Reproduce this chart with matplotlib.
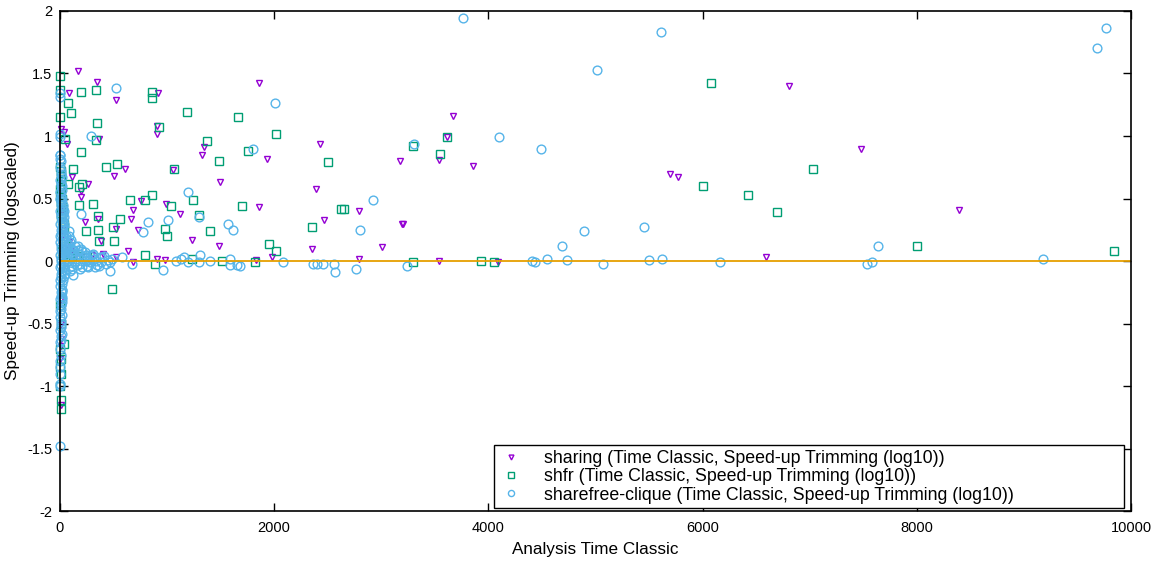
import matplotlib
matplotlib.use("Agg")
import matplotlib.pyplot as plt

plt.rcParams["font.family"] = ["Liberation Sans", "DejaVu Sans"]
plt.rcParams["axes.unicode_minus"] = False

# sharing: (Time Classic, Speed-up Trimming log10)
sharing_x = [165, 345, 84, 523, 915, 1858, 9, 37, 65, 364, 906, 906, 1345, 1326, 1932,
             2428, 3175, 112, 504, 607, 1055, 1494, 261, 196, 2390, 756, 682, 990, 1120,
             1858, 2792, 2465, 3193, 233, 355, 663, 523, 728, 1232, 1485, 2353, 3006, 1979,
             2792, 1830, 635, 682, 906, 980, 523, 383, 3669, 3613, 3539, 3856, 3203, 3539,
             4090, 5696, 5770, 6807, 6592, 7479, 8394, 196,
             5, 8, 3, 6, 10, 12, 15, 20, 40, 60, 30, 80, 100, 150, 200, 300, 400]
sharing_y = [1.52, 1.43, 1.34, 1.29, 1.34, 1.42, 1.06, 1.03, 0.94, 0.98, 1.08, 1.02, 0.91,
             0.85, 0.82, 0.94, 0.80, 0.67, 0.68, 0.74, 0.73, 0.63, 0.62, 0.51, 0.58, 0.48,
             0.41, 0.46, 0.38, 0.43, 0.40, 0.33, 0.30, 0.31, 0.34, 0.34, 0.26, 0.25, 0.17,
             0.12, 0.10, 0.11, 0.03, 0.02, 0.01, 0.08, -0.01, 0.02, 0.01, 0.03, 0.16, 1.16,
             0.99, 0.81, 0.76, 0.30, 0.0, -0.01, 0.70, 0.67, 1.40, 0.03, 0.90, 0.41, 0.56,
             -0.62, -0.68, -0.78, -1.15, -0.5, -0.3, 0.4, 0.2, 0.1, 0.05, 0.25, 0.15, 0.08,
             0.05, 0.04, 0.05, 0.06]

# shfr
shfr_x = [3, 3, 196, 336, 75, 103, 3, 345, 859, 859, 1186, 1662, 2017, 47, 336, 924, 1373,
          196, 1755, 1485, 2502, 429, 532, 121, 1064, 75, 205, 177, 654, 794, 859, 1242,
          177, 308, 1036, 1699, 1298, 2624, 2652, 355, 560, 495, 980, 999, 1401, 2353, 243,
          355, 504, 364, 1951, 2017, 794, 887, 1513, 1821, 1232, 486, 37, 9, 9, 3296, 3548,
          3613, 6078, 6004, 6424, 6695, 7031, 3296, 3931, 4052, 8002, 9841,
          5, 8, 12, 6, 18, 25, 10, 40, 30, 60, 15, 4, 6, 3, 5, 4, 7, 2, 20, 90, 120, 160, 250,
          3, 6, 2, 9, 4, 14, 7, 22, 11, 35]
shfr_y = [1.48, 1.37, 1.35, 1.37, 1.26, 1.18, 1.15, 1.10, 1.35, 1.30, 1.19, 1.15, 1.02,
          0.98, 0.97, 1.07, 0.96, 0.87, 0.88, 0.80, 0.79, 0.75, 0.78, 0.74, 0.74, 0.62,
          0.62, 0.59, 0.49, 0.49, 0.53, 0.49, 0.45, 0.46, 0.44, 0.44, 0.37, 0.42, 0.42,
          0.36, 0.34, 0.27, 0.26, 0.20, 0.24, 0.27, 0.24, 0.25, 0.16, 0.16, 0.14, 0.08,
          0.05, -0.02, 0.0, -0.01, 0.02, -0.22, -0.66, -1.11, -1.18, 0.92, 0.86, 0.99, 1.42,
          0.60, 0.53, 0.39, 0.74, -0.01, 0.0, -0.01, 0.12, 0.08,
          0.72, 0.68, 0.6, 0.55, 0.5, 0.42, 0.35, 0.3, 0.2, 0.12, 0.1, -0.35, -0.5, -0.7,
          -0.78, -0.85, -0.9, -1.0, 0.05, 0.06, 0.05, 0.04, 0.03,
          0.75, 0.64, 0.58, 0.47, 0.52, 0.38, 0.66, 0.32, 0.45, 0.27]

# sharefree-clique
clique_x = [3, 4, 523, 2007, 3, 2, 289, 3, 2, 1802, 1195, 2922, 196, 822, 1008, 775, 1298,
            1569, 1615, 2801, 467, 121, 961, 1307, 1587, 1653, 1681, 2082, 2363, 2400, 2456,
            2558, 2568, 2764, 1083, 1130, 1158, 1195, 1298, 1401, 1587, 672, 579, 373, 280,
            205, 19, 19, 3, 2, 3, 3763, 5611, 5014, 4099, 4491, 3305, 4893, 5453, 4687, 3240,
            4407, 4435, 4547, 4734, 5070, 5500, 5621, 6162, 9767, 9683, 7638, 7582, 7535, 9178,
            # dense cluster near zero
            1, 5, 3, 8, 2, 6, 4, 1, 7, 3, 5, 2, 9, 4, 1, 6, 3, 8, 2, 5, 4, 1, 7, 3, 6, 2, 4,
            8, 1, 5, 3, 2, 6, 4, 1, 3,
            12, 16, 10, 18, 14, 11, 17, 13, 19, 15, 12, 16, 10, 18, 14, 11, 17, 13, 19, 15,
            12, 16, 10, 18, 14, 11, 17, 13,
            25, 40, 35, 55, 30, 60, 45, 20, 50, 70, 38, 28, 65, 42, 22, 33, 48, 15, 12, 18,
            26, 32, 44, 52, 36, 58, 24, 46, 62, 29, 41, 54, 27, 34,
            90, 110, 130, 80, 100, 120, 150, 95, 140, 75, 160, 105, 85, 125, 115, 145, 170,
            88, 135, 98,
            180, 220, 250, 200, 240, 280, 190, 230, 260, 170, 210, 270, 185, 245,
            320, 350, 410, 450, 380, 300, 430, 340, 490, 360, 310, 395, 470, 330]
clique_y = [1.34, 1.31, 1.38, 1.26, 1.02, 0.99, 1.0, 0.85, 0.82, 0.90, 0.55, 0.49, 0.38,
            0.31, 0.33, 0.23, 0.35, 0.30, 0.25, 0.25, -0.08, -0.11, -0.07, 0.05, 0.02, -0.03,
            -0.04, -0.01, -0.02, -0.02, -0.02, -0.02, -0.09, -0.06, 0.0, 0.02, 0.03, -0.01,
            -0.01, 0.0, -0.03, -0.02, 0.03, 0.03, -0.01, -0.05, -0.23, -0.29, -0.98, -1.0,
            -1.48, 1.94, 1.83, 1.53, 0.99, 0.90, 0.94, 0.24, 0.27, 0.12, -0.04, 0.0, -0.01,
            0.02, 0.01, -0.02, 0.01, 0.02, -0.01, 1.86, 1.70, 0.12, -0.01, -0.02, 0.02,
            0.85, 0.8, 0.75, 0.7, 0.65, 0.6, 0.55, 0.5, 0.45, 0.4, 0.35, 0.3, 0.25, 0.2, 0.15,
            0.1, 0.05, 0.0, -0.05, -0.1, -0.15, -0.2, -0.25, -0.3, -0.35, -0.4, -0.45, -0.5,
            -0.55, -0.6, -0.65, -0.7, -0.75, -0.8, -0.85, -0.9,
            0.72, 0.67, 0.62, 0.57, 0.52, 0.47, 0.42, 0.37, 0.32, 0.27, 0.22, 0.17, 0.12,
            0.07, 0.02, -0.03, -0.08, -0.13, -0.18, -0.23, -0.28, -0.33, -0.38, -0.43, -0.48,
            -0.53, -0.58, -0.63,
            0.45, 0.35, 0.3, 0.2, 0.25, 0.15, 0.1, 0.5, 0.05, 0.1, -0.05, -0.15, 0.0, 0.2,
            -0.25, 0.4, -0.1, 0.6, -0.35, -0.3,
            0.32, 0.22, 0.12, 0.07, 0.17, 0.02, 0.27, -0.07, 0.04, 0.38, -0.02, 0.09, 0.42,
            -0.12,
            0.15, 0.1, 0.08, 0.2, -0.04, 0.05, 0.02, -0.08, 0.12, 0.0, -0.03, 0.17, 0.24,
            0.06, -0.06, 0.03, 0.09, 0.13, -0.01, 0.1,
            0.06, 0.03, -0.04, 0.1, 0.0, 0.04, -0.02, 0.07, -0.05, 0.12, 0.08, 0.01, -0.06,
            0.05,
            0.02, -0.03, 0.04, 0.01, -0.01, 0.05, -0.02, 0.0, 0.02, -0.04, 0.06, 0.03, -0.01,
            -0.05]

x_ticks = [0, 2000, 4000, 6000, 8000, 10000]
y_ticks = [-2, -1.5, -1, -0.5, 0, 0.5, 1, 1.5, 2]
suffix = " (Time Classic, Speed-up Trimming (log10))"

fig = plt.figure(figsize=(11.69, 5.61), dpi=100)
ax = fig.add_axes([0.0513, 0.0891, 0.9162, 0.8913])

ax.plot(sharing_x, sharing_y, linestyle="none", marker="v", markersize=5,
        markerfacecolor="none", markeredgecolor="#9400D3", markeredgewidth=1.0,
        label="sharing" + suffix, clip_on=False)
ax.plot(shfr_x, shfr_y, linestyle="none", marker="s", markersize=6,
        markerfacecolor="none", markeredgecolor="#009E73", markeredgewidth=1.0,
        label="shfr" + suffix, clip_on=False)
ax.plot(clique_x, clique_y, linestyle="none", marker="o", markersize=6.3,
        markerfacecolor="none", markeredgecolor="#56B4E9", markeredgewidth=1.0,
        label="sharefree-clique" + suffix, clip_on=False)
ax.axhline(0, color="#E69F00", linewidth=1.3, zorder=5)

ax.set_xlim(0, 10000)
ax.set_ylim(-2, 2)
ax.set_xticks(x_ticks)
ax.set_xticklabels([str(t) for t in x_ticks])
ax.set_yticks(y_ticks)
ax.set_yticklabels(["-2", "-1.5", "-1", "-0.5", "0", "0.5", "1", "1.5", "2"])
ax.tick_params(direction="in", top=True, right=True, length=6, width=1,
               labelsize=10.5)
ax.tick_params(axis="x", pad=7)
ax.tick_params(axis="y", pad=5.5)
for spine in ax.spines.values():
    spine.set_linewidth(1.2)
    spine.set_zorder(6)

ax.set_xlabel("Analysis Time Classic", fontsize=12.3, labelpad=5)
ax.set_ylabel("Speed-up Trimming (logscaled)", fontsize=12.3, labelpad=5)

leg = ax.legend(loc="lower left", bbox_to_anchor=(0.405, 0.006, 0.5885, 0.13),
                mode="expand", fontsize=12.8, frameon=True, fancybox=False,
                edgecolor="black", framealpha=1, handletextpad=1.2, borderpad=0.25,
                labelspacing=0.08, markerscale=0.7, handlelength=1.4, borderaxespad=0)
leg.get_frame().set_linewidth(1.0)

fig.savefig("out.png", dpi=100)
